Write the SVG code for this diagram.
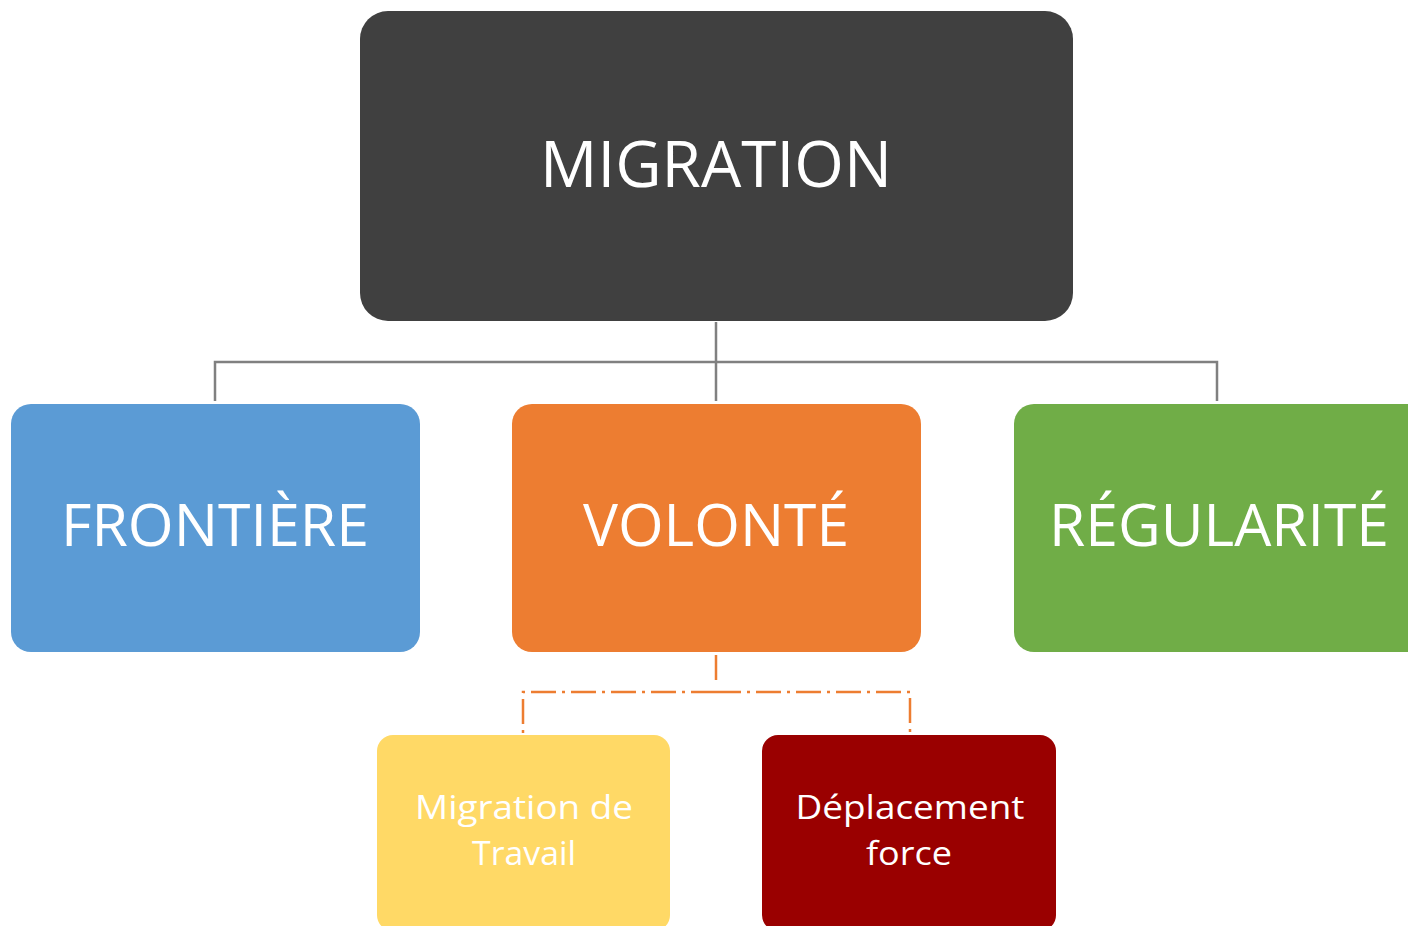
<svg xmlns="http://www.w3.org/2000/svg" width="1408" height="926" viewBox="0 0 1408 926">
<style>
.t{font-family:"Open Sans","Noto Sans",sans-serif;fill:#fff;text-anchor:middle}
.big{font-size:64px}
.mid{font-size:58px}
.sm{font-size:33px}
.conn{fill:none;stroke:#808080;stroke-width:2.5}
.dash{fill:none;stroke:#ED7D31;stroke-width:2.5;stroke-dasharray:25 6 3 6}
</style>
<rect width="1408" height="926" fill="#fff"/>
<g id="connectors">
<path class="conn" d="M716 322 V401 M215 401 V362 H1217 V401"/>
<path class="dash" d="M716 655 V685"/>
<path class="dash" d="M716 692 H523 V733 M716 692 H910 V733"/>
</g>
<g id="node-migration">
<rect x="360" y="11" width="713" height="310" rx="28" fill="#404040"/>
<text class="t big" x="716" y="187" textLength="352" lengthAdjust="spacingAndGlyphs">MIGRATION</text>
</g>
<g id="node-frontiere">
<rect x="11" y="404" width="409" height="248" rx="20" fill="#5B9BD5"/>
<text class="t mid" x="215" y="546" textLength="308" lengthAdjust="spacingAndGlyphs">FRONTIÈRE</text>
</g>
<g id="node-volonte">
<rect x="512" y="404" width="409" height="248" rx="20" fill="#ED7D31"/>
<text class="t mid" x="716" y="546" textLength="266" lengthAdjust="spacingAndGlyphs">VOLONTÉ</text>
</g>
<g id="node-regularite">
<rect x="1014" y="404" width="420" height="248" rx="20" fill="#70AD47"/>
<text class="t mid" x="1219" y="546" textLength="340" lengthAdjust="spacingAndGlyphs">RÉGULARITÉ</text>
</g>
<g id="node-travail">
<rect x="377" y="735" width="293" height="196" rx="16" fill="#FFD966"/>
<text class="t sm" x="524" y="819" textLength="218" lengthAdjust="spacingAndGlyphs">Migration de</text>
<text class="t sm" x="524" y="865" textLength="104" lengthAdjust="spacingAndGlyphs">Travail</text>
</g>
<g id="node-deplacement">
<rect x="762" y="735" width="294" height="196" rx="16" fill="#9A0000"/>
<text class="t sm" x="910" y="819" textLength="229" lengthAdjust="spacingAndGlyphs">Déplacement</text>
<text class="t sm" x="909" y="865" textLength="86" lengthAdjust="spacingAndGlyphs">force</text>
</g>
</svg>
